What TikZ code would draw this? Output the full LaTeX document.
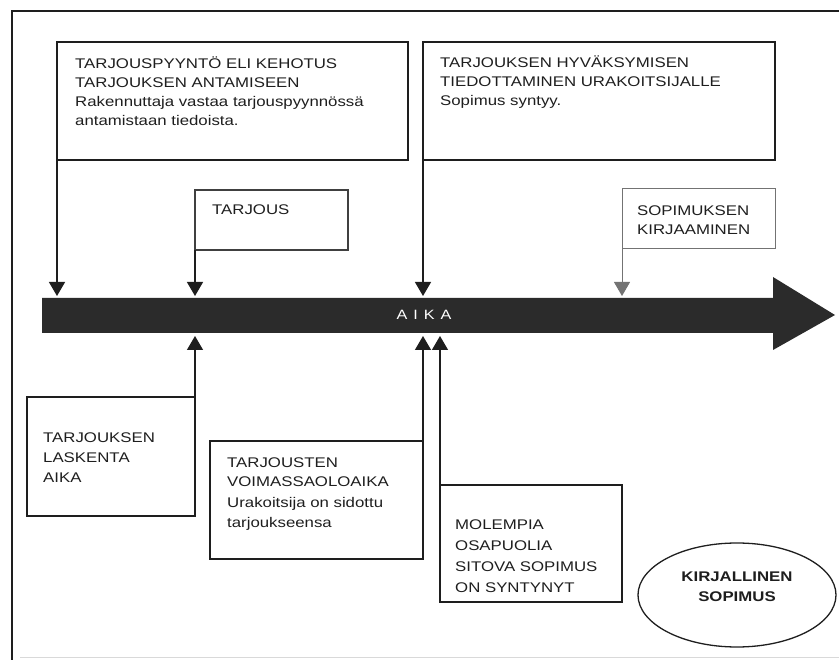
\documentclass[tikz,border=0pt]{standalone}
\usepackage{fontspec}
\setmainfont{Liberation Sans}[FakeStretch=1.2]
\usetikzlibrary{arrows.meta,shapes.geometric}
\definecolor{ink}{HTML}{1E1E1E}
\definecolor{barcol}{HTML}{2B2B2B}
\tikzset{
  box/.style={draw=ink,line width=1.4pt,rectangle,inner sep=0pt,outer sep=0pt,anchor=north west},
  lightbox/.style={box,draw=black!55,line width=1pt},
  txt/.style={anchor=base west,align=left,inner sep=0pt,text=ink,font=\fontsize{14}{20}\selectfont},
  conn/.style={draw=ink,line width=1.2pt,-{Triangle[width=16pt,length=14pt]}},
  lightconn/.style={conn,draw=black!55,line width=0.9pt},
}
\begin{document}
\begin{tikzpicture}[x=1pt,y=-1pt]
\useasboundingbox (0,0) rectangle (839,660);
% frame
\draw[ink,line width=1.4pt] (839,11) -- (12,11) -- (12,660);
\draw[black!15,line width=0.8pt] (20,657) -- (839,657);
% time bar
\fill[barcol] (42,298) -- (773,298) -- (773,277) -- (835,315) -- (773,350) -- (773,333) -- (42,333) -- cycle;
\node[text=white,font=\fontsize{13.5}{15}\selectfont,inner sep=0pt] (aika) at (424,315) {A\hspace{6pt}I\hspace{6pt}K\hspace{6pt}A};
% anchor points on the bar
\coordinate (d1) at (57,296);
\coordinate (d2) at (195,296);
\coordinate (d3) at (423,296);
\coordinate (d4) at (622,296);
\coordinate (u1) at (195,336);
\coordinate (u2) at (423,336);
\coordinate (u3) at (440,336);
% boxes above
\node[box,minimum width=351pt,minimum height=118pt] (b1) at (57,42) {};
\node[box,minimum width=352pt,minimum height=118pt] (b2) at (423,42) {};
\node[box,draw=black!75,line width=1.1pt,minimum width=153pt,minimum height=60pt] (b3) at (195,190) {};
\node[lightbox,minimum width=153pt,minimum height=60pt] (b4) at (622,189) {};
% boxes below
\node[box,minimum width=168pt,minimum height=119pt] (b5) at (27,397) {};
\node[box,minimum width=213pt,minimum height=118pt] (b6) at (210,441) {};
\node[box,minimum width=182pt,minimum height=117pt] (b7) at (440,485) {};
\node[ellipse,draw=ink,line width=1.3pt,minimum width=198pt,minimum height=104pt,inner sep=0pt] (e1) at (737,595) {};
% texts (anchored at the baseline of the last line)
\node[txt,font=\fontsize{14}{19.3}\selectfont] (t1) at (75,126) {TARJOUSPYYNTÖ ELI KEHOTUS\\TARJOUKSEN ANTAMISEEN\\Rakennuttaja vastaa tarjouspyynnössä\\antamistaan tiedoista.};
\node[txt,font=\fontsize{14}{19.3}\selectfont] (t2) at (440,106) {TARJOUKSEN HYVÄKSYMISEN\\TIEDOTTAMINEN URAKOITSIJALLE\\Sopimus syntyy.};
\node[txt] (t3) at (212,215) {TARJOUS};
\node[txt,font=\fontsize{14}{19.5}\selectfont] (t4) at (637,235) {SOPIMUKSEN\\KIRJAAMINEN};
\node[txt] (t5) at (43,483) {TARJOUKSEN\\LASKENTA\\AIKA};
\node[txt] (t6) at (227,527) {TARJOUSTEN\\VOIMASSAOLOAIKA\\Urakoitsija on sidottu\\tarjoukseensa};
\node[txt,font=\fontsize{14}{20.7}\selectfont] (t7) at (455,592) {MOLEMPIA\\OSAPUOLIA\\SITOVA SOPIMUS\\ON SYNTYNYT};
\node[align=center,text=ink,font=\bfseries\fontsize{14}{19.5}\selectfont] (t8) at (737,587) {KIRJALLINEN\\SOPIMUS};
% connectors
\draw[conn] (b1.south west) -- (d1);
\draw[conn] (b3.south west) -- (d2);
\draw[conn] (b2.south west) -- (d3);
\draw[lightconn] (b4.south west) -- (d4);
\draw[conn] (b5.north east) -- (u1);
\draw[conn] (b6.north east) -- (u2);
\draw[conn] (b7.north west) -- (u3);
\end{tikzpicture}
\end{document}
